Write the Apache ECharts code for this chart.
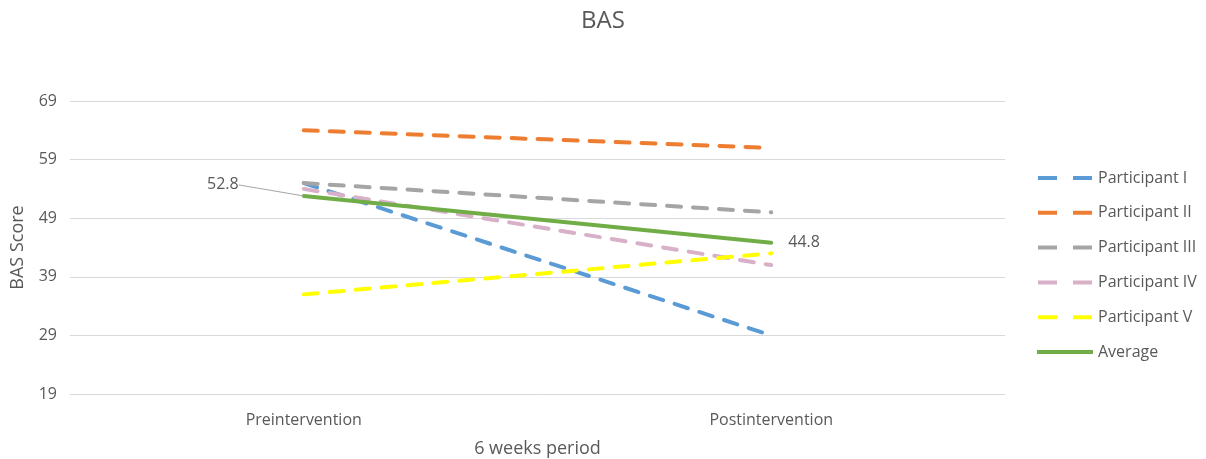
<!DOCTYPE html>
<html>
<head>
<meta charset="utf-8">
<script src="https://cdn.jsdelivr.net/npm/echarts@6/dist/echarts.min.js"></script>
<style>
  html, body { margin: 0; padding: 0; background: #fff; }
  #chart { width: 1206px; height: 459px; }
</style>
</head>
<body>
<div id="chart"></div>
<script>
// BAS scores before and after the six-week programme
const categories = ['Preintervention', 'Postintervention'];
const participantI = [55, 29];
const participantII = [64, 61];
const participantIII = [55, 50];
const participantIV = [54, 41];
const participantV = [36, 43];
const average = [52.8, 44.8];
const yTicks = { min: 19, max: 69, step: 10 };

const textColor = '#595959';
const font = '"Open Sans", "Noto Sans", sans-serif';

// legend glyphs: two short dashes, or one solid bar
const dashIcon = 'path://M0,0 L19,0 L19,4 L0,4 Z M35,0 L54,0 L54,4 L35,4 Z';
const solidIcon = 'path://M0,0 L56,0 L56,4 L0,4 Z';

function dashed(name, data, color) {
  return {
    name, type: 'line', data,
    symbol: 'none',
    lineStyle: { color, width: 4, type: [14, 12], cap: 'round' },
    itemStyle: { color },
    z: 2
  };
}

const chart = echarts.init(document.getElementById('chart'));
chart.setOption({
  animation: false,
  backgroundColor: '#fff',
  textStyle: { fontFamily: font },
  title: {
    text: 'BAS', left: 'center', top: 4,
    textStyle: { color: textColor, fontSize: 24, fontWeight: 'normal', fontFamily: font }
  },
  grid: { left: 70, right: 201, top: 101, bottom: 65, outerBoundsMode: 'none', containLabel: false },
  legend: {
    orient: 'vertical', left: 1032, top: 163,
    itemWidth: 56, itemHeight: 4, itemGap: 14.8,
    textStyle: { color: textColor, fontSize: 16, fontFamily: font, lineHeight: 20 },
    data: [
      { name: 'Participant I', icon: dashIcon },
      { name: 'Participant II', icon: dashIcon },
      { name: 'Participant III', icon: dashIcon },
      { name: 'Participant IV', icon: dashIcon },
      { name: 'Participant V', icon: dashIcon },
      { name: 'Average', icon: solidIcon }
    ]
  },
  xAxis: {
    type: 'category', data: categories, boundaryGap: true,
    name: '6 weeks period', nameLocation: 'middle', nameGap: 46,
    nameTextStyle: { color: textColor, fontSize: 18, fontFamily: font },
    axisLine: { lineStyle: { color: '#d9d9d9', width: 1 } },
    axisTick: { show: false },
    axisLabel: { color: textColor, fontSize: 16, margin: 18, fontFamily: font }
  },
  yAxis: {
    type: 'value', min: yTicks.min, max: yTicks.max, interval: yTicks.step,
    name: 'BAS Score', nameLocation: 'middle', nameGap: 43, nameRotate: 90,
    nameTextStyle: { color: textColor, fontSize: 18, fontFamily: font },
    axisLine: { show: false },
    axisTick: { show: false },
    axisLabel: { color: textColor, fontSize: 16, margin: 13, fontFamily: font },
    splitLine: { lineStyle: { color: '#d9d9d9', width: 1 } }
  },
  series: [
    dashed('Participant I', participantI, '#5B9BD5'),
    dashed('Participant II', participantII, '#ED7D31'),
    dashed('Participant III', participantIII, '#A5A5A5'),
    dashed('Participant IV', participantIV, '#D8B0C8'),
    dashed('Participant V', participantV, '#FFFF00'),
    {
      name: 'Average', type: 'line',
      symbol: 'circle', symbolSize: 0.1, showSymbol: true,
      lineStyle: { color: '#70AD47', width: 4, cap: 'round' },
      itemStyle: { color: '#70AD47' },
      z: 3,
      labelLine: { show: true, lineStyle: { color: '#a6a6a6', width: 1 } },
      labelLayout: function (params) {
        // first label sits up and to the left, joined by a leader line
        return params.dataIndex === 0 ? { dx: -60, dy: -11 } : {};
      },
      data: [
        {
          value: average[0],
          label: { show: true, position: 'left', distance: 5, color: textColor, fontSize: 16, fontFamily: font }
        },
        {
          value: average[1],
          label: { show: true, position: 'right', distance: 17, color: textColor, fontSize: 16, fontFamily: font },
          labelLine: { show: false }
        }
      ]
    }
  ]
});
</script>
</body>
</html>
